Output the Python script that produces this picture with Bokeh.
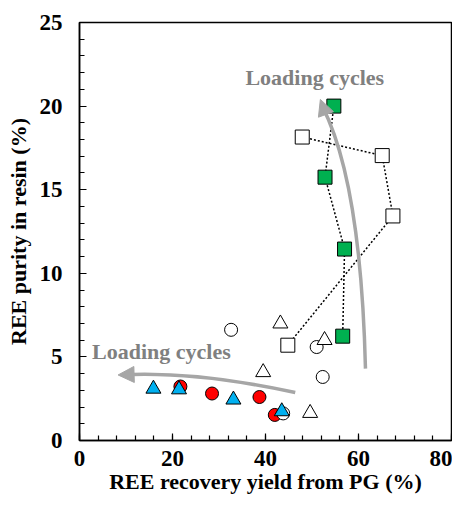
from bokeh.plotting import figure
from bokeh.embed import file_html
from bokeh.resources import INLINE
from bokeh.models import SingleIntervalTicker, Arrow, NormalHead
from bokeh.core.properties import value

# ---- data ----
green_sq_x = [54.7, 52.8, 57.0, 56.6]
green_sq_y = [20.0, 15.75, 11.45, 6.24]
open_sq_x = [47.9, 65.1, 67.4, 44.8]
open_sq_y = [18.15, 17.04, 13.43, 5.7]
open_circ_x = [32.6, 51.0, 52.3, 43.8]
open_circ_y = [6.62, 5.59, 3.80, 1.62]
open_tri_x = [43.2, 52.7, 39.5, 49.6]
open_tri_y = [6.99, 6.0, 4.08, 1.64]
red_circ_x = [21.7, 28.5, 38.7, 42.0]
red_circ_y = [3.23, 2.81, 2.60, 1.53]
blue_tri_x = [15.9, 21.4, 33.1, 43.5]
blue_tri_y = [3.09, 3.05, 2.44, 1.74]
x_ticks = [0, 20, 40, 60, 80]
y_ticks = [0, 5, 10, 15, 20, 25]
annot_text = "Loading cycles"

FONT = value("Liberation Serif")

p = figure(width=452, height=496, x_range=(0, 80), y_range=(0, 25),
           output_backend="svg", toolbar_location=None,
           min_border_left=79, min_border_right=1, min_border_top=22,
           min_border_bottom=54)
p.grid.visible = False
p.outline_line_color = "black"
p.outline_line_width = 1.5
p.background_fill_color = "white"
p.border_fill_color = "white"

p.xaxis.ticker = SingleIntervalTicker(interval=20, num_minor_ticks=5)
p.yaxis.ticker = SingleIntervalTicker(interval=5, num_minor_ticks=5)
for ax in (p.xaxis, p.yaxis):
    ax.major_tick_in = 7
    ax.major_tick_out = 0
    ax.minor_tick_in = 5
    ax.minor_tick_out = 0
    ax.axis_line_width = 1.5
    ax.major_tick_line_width = 1.2
    ax.minor_tick_line_width = 1.2
    ax.major_label_text_font = "Liberation Serif"
    ax.major_label_text_font_style = "bold"
    ax.major_label_text_font_size = "23px"
    ax.major_label_text_color = "black"
    ax.axis_label_text_font = "Liberation Serif"
    ax.axis_label_text_font_style = "bold"
    ax.axis_label_text_font_size = "22px"
    ax.axis_label_text_color = "black"
p.xaxis.axis_label = "REE recovery yield from PG (%)"
p.yaxis.axis_label = "REE purity in resin (%)"
p.xaxis.major_label_standoff = 10
p.yaxis.major_label_standoff = 17
p.xaxis.axis_label_standoff = 0
p.yaxis.axis_label_standoff = 6

# dotted connecting lines
p.line(open_sq_x, open_sq_y, line_color="black", line_dash="2 2", line_width=1.5)
p.line(green_sq_x, green_sq_y, line_color="black", line_dash="2 2", line_width=1.5)

# markers
p.scatter(red_circ_x, red_circ_y, marker="circle", size=13,
          fill_color="#ff0000", line_color="black", line_width=1)
p.scatter(open_circ_x, open_circ_y, marker="circle", size=13,
          fill_color="white", line_color="black", line_width=1)
p.scatter(open_tri_x, open_tri_y, marker="triangle", size=15,
          fill_color="white", line_color="black", line_width=1)
p.scatter(blue_tri_x, blue_tri_y, marker="triangle", size=15,
          fill_color="#00b0f0", line_color="black", line_width=1)
p.scatter(open_sq_x, open_sq_y, marker="square", size=14,
          fill_color="white", line_color="black", line_width=1)
p.scatter(green_sq_x, green_sq_y, marker="square", size=14,
          fill_color="#00b050", line_color="black", line_width=1)

# curved gray arrows
GRAY = "#a6a6a6"
p.quadratic(x0=[61.5], y0=[4.3], x1=[52.2], y1=[20.0], cx=[60.5], cy=[15.5],
            line_color=GRAY, line_width=3.5)
p.add_layout(Arrow(end=NormalHead(size=16, fill_color=GRAY, line_color=GRAY),
                   x_start=52.6, y_start=19.8, x_end=51.8, y_end=20.4,
                   line_color=GRAY, line_width=3.5))
p.quadratic(x0=[46.4], y0=[2.87], x1=[9.0], y1=[3.92], cx=[25.0], cy=[4.15],
            line_color=GRAY, line_width=3.5)
p.add_layout(Arrow(end=NormalHead(size=16, fill_color=GRAY, line_color=GRAY),
                   x_start=9.5, y_start=3.93, x_end=8.3, y_end=3.92,
                   line_color=GRAY, line_width=3.5))

# annotations
p.text(x=[50.6, 17.6], y=[21.7, 5.3], text=[annot_text, annot_text],
       text_font=FONT, text_font_style="bold", text_font_size="22px",
       text_color="#808080", text_align="center", text_baseline="middle")

open("out.html", "w").write(file_html(p, INLINE))
